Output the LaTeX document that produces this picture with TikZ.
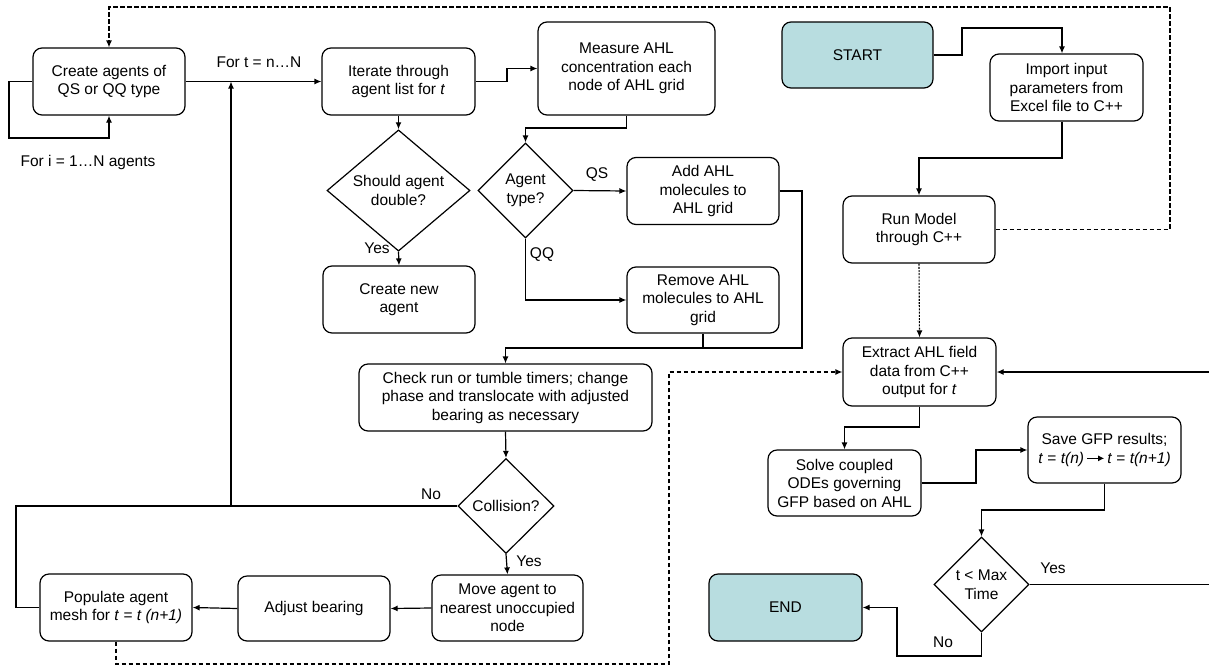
\documentclass[tikz,border=0pt]{standalone}
\usepackage{fontspec}
\setmainfont{Liberation Sans}
\usetikzlibrary{arrows.meta,shapes.geometric}
\definecolor{termfill}{RGB}{184,221,224}
\begin{document}
\begin{tikzpicture}[x=1pt,y=-1pt,
  txt/.style={font=\fontsize{15.5}{18.5}\selectfont},
  box/.style={draw, rounded corners=9pt, line width=1.2pt, align=center, inner sep=0pt, txt},
  dia/.style={draw, diamond, line width=1.2pt, align=center, inner sep=0pt, txt},
  plain/.style={line width=1.2pt},
  conn/.style={plain, -{Latex[length=7pt,width=6pt]}},
  dashln/.style={line width=1.2pt, dash pattern=on 4.5pt off 2.5pt},
  dotln/.style={line width=1.1pt, dash pattern=on 2pt off 1.2pt},
  lbl/.style={txt, inner sep=0pt}
]
\useasboundingbox (0,0) rectangle (1209,667);

% ---- nodes
\node[box, minimum width=152, minimum height=67] (create) at (109,81.5) {Create agents of\\QS or QQ type};
\node[box, minimum width=153, minimum height=67] (iter) at (398.5,81.5) {Iterate through\\agent list for \textit{t}};
\node[box, minimum width=177, minimum height=93] (measure) at (626.5,68.5) {Measure AHL\\concentration each\\node of AHL grid};
\node[dia, minimum width=143, minimum height=95] (double) at (398.5,190.5) {Should agent\\double?};
\node[box, minimum width=152, minimum height=67] (newag) at (399,299.5) {Create new\\agent};
\node[dia, minimum width=95, minimum height=95] (atype) at (525.5,190.5) {Agent\\type?};
\node[box, minimum width=152, minimum height=67] (add) at (703,191) {Add AHL\\molecules to\\AHL grid};
\node[box, minimum width=152, minimum height=66] (remove) at (703,300) {Remove AHL\\molecules to AHL\\grid};
\node[box, minimum width=293, minimum height=67] (check) at (505.5,397.5) {Check run or tumble timers; change\\phase and translocate with adjusted\\bearing as necessary};
\node[dia, minimum width=96, minimum height=95] (coll) at (506,506) {Collision?};
\node[box, minimum width=151, minimum height=66] (move) at (507.5,608) {Move agent to\\nearest unoccupied\\node};
\node[box, minimum width=152, minimum height=65] (adjust) at (314,608.5) {Adjust bearing};
\node[box, minimum width=152, minimum height=67] (pop) at (116,607.5) {Populate agent\\mesh for \textit{t} = \textit{t (n+1)}};
\node[box, fill=termfill, minimum width=151, minimum height=66] (start) at (857.5,55) {START};
\node[box, minimum width=153, minimum height=67] (import) at (1066.5,87.5) {Import input\\parameters from\\Excel file to C++};
\node[box, minimum width=152, minimum height=67] (run) at (919,229.5) {Run Model\\through C++};
\node[box, minimum width=153, minimum height=68] (extract) at (919.5,372) {Extract AHL field\\data from C++\\output for \textit{t}};
\node[box, minimum width=153, minimum height=66] (solve) at (844.5,483) {Solve coupled\\ODEs governing\\GFP based on AHL};
\node[box, minimum width=153, minimum height=66] (save) at (1104.5,450) {Save GFP results;\\\textit{t} = \textit{t(n)}\,\tikz[baseline=-0.6ex]\draw[line width=1pt,-{Latex[length=6pt,width=6pt]}] (0pt,0pt) -- (17pt,0pt);\,\textit{t} = \textit{t(n+1)}};
\node[dia, minimum width=95, minimum height=95] (tmax) at (981.5,584.5) {t {\textless} Max\\Time};
\node[box, fill=termfill, minimum width=153, minimum height=67] (end) at (785.5,607.5) {END};

% ---- junction coordinates
\coordinate (jn) at (231,506);
\coordinate (jt) at (231,81.5);

% ---- labels
\node[lbl] (li) at (88,162) {For i = 1\dots N agents};
\node[lbl] (lt) at (259,62) {For t = n\dots N};
\node[lbl] (lyes1) at (377,248) {Yes};
\node[lbl] (lqs) at (597,175) {QS};
\node[lbl] (lqq) at (542,255) {QQ};
\node[lbl] (lno1) at (431,494) {No};
\node[lbl] (lyes2) at (529,561) {Yes};
\node[lbl] (lyes3) at (1053,568) {Yes};
\node[lbl] (lno2) at (943,642) {No};

% ---- connectors
\draw[conn] (create.west) -- (9,81.5) -- (9,138) -| (create.south);
\draw[conn] (create.east) -- (iter.west);
\draw[plain] (coll.west) -- (jn);
\draw[conn] (jn) -- (jt);
\draw[plain] (pop.west) -- (16,607.5) -- (16,506) -- (jn);
\draw[conn] (iter.east) -- (507,81.5) -- (507,68.5) -- (measure.west);
\draw[conn] (iter.south) -- (double.north);
\draw[conn] (measure.south) -- (626.5,128) -| (atype.north);
\draw[conn] (double.south) -- (newag.north);
\draw[conn] (atype.east) -- (add.west);
\draw[conn] (atype.south) |- (remove.west);
\draw[conn] (add.east) -- (802,191) -- (802,348) -| (check.north);
\draw[plain] (remove.south) -- (703,348);
\draw[conn] (check.south) -- (coll.north);
\draw[conn] (coll.south) -- (move.north);
\draw[conn] (move.west) -- (adjust.east);
\draw[conn] (adjust.west) -- (pop.east);
\draw[dashln, -{Latex[length=7pt,width=6pt]}] (pop.south) -- (116,664) -- (669,664) -- (669,372) -- (extract.west);
\draw[conn] (start.east) -- (962,55) -- (962,28) -- (1062,28) -- ([xshift=-4.5pt]import.north);
\draw[conn] ([xshift=-4.5pt]import.south) -- (1062,158) -| (run.north);
\draw[dashln, -{Latex[length=7pt,width=6pt]}] (run.east) -- (1170,229.5) -- (1170,7) -- (109,7) -- (create.north);
\draw[dotln, -{Latex[length=7pt,width=6pt]}] (run.south) -- (extract.north);
\draw[conn] (extract.south) -- (919.5,427) -| (solve.north);
\draw[conn] (solve.east) -- (976,483) -- (976,450) -- (save.west);
\draw[conn] (save.south) -- (1104.5,510) -| (tmax.north);
\draw[conn] (tmax.east) -- (1216,584.5) -- (1216,372) -- (extract.east);
\draw[conn] (tmax.south) -- (981.5,656) -- (897,656) -- (897,607.5) -- (end.east);
\end{tikzpicture}
\end{document}
